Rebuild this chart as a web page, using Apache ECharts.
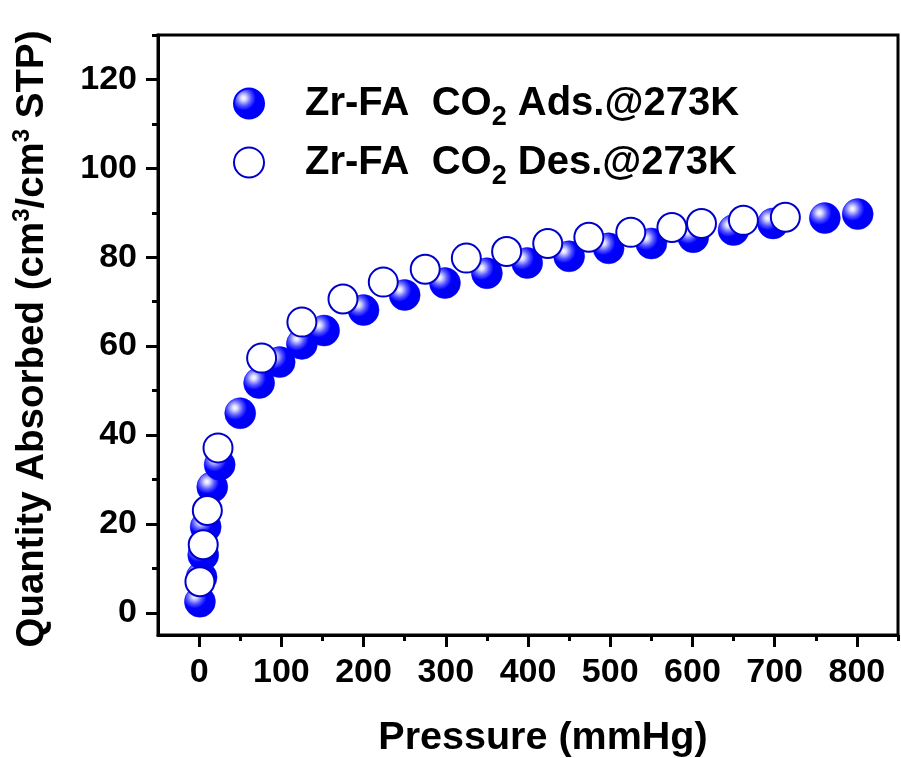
<!DOCTYPE html>
<html><head><meta charset="utf-8">
<script src="https://cdn.jsdelivr.net/npm/echarts@6/dist/echarts.min.js"></script>
<style>html,body{margin:0;padding:0;background:#fff}#c{width:901px;height:758px}</style>
</head><body><div id="c"></div>
<script>
const adsX = [1,3,5,8,16,25,50,73,98,125,152,200,250,299,350,399,450,498,550,601,650,698,761,801];
const adsY = [2.5,8,13,19.3,28.3,33.3,44.9,51.7,56.4,60.5,63.5,68.1,71.5,74.2,76.4,78.7,80.2,82.0,83.1,84.5,86.1,87.6,88.8,89.7];
const desX = [1,5,10,23,76,125,175,224,275,325,374,424,474,525,575,611,662,713];
const desY = [7,15.3,23,37.1,57.3,65.4,70.6,74.4,77.3,79.8,81.3,83.1,84.5,85.6,86.7,87.6,88.3,89.0];
const xMajor = [0,100,200,300,400,500,600,700,800];
const xMinor = [50,150,250,350,450,550,650,750,850];
const yMajor = [0,20,40,60,80,100,120];
const yMinor = [10,30,50,70,90,110,130];
const seriesNames = ['Zr-FA  CO2 Ads.@273K','Zr-FA  CO2 Des.@273K'];

const FONT = 'Arial, "Liberation Sans", sans-serif';
const chart = echarts.init(document.getElementById('c'));
const sphere = new echarts.graphic.RadialGradient(0.33, 0.33, 0.7, [
  {offset:0, color:'#ffffff'},
  {offset:0.12, color:'#d8d8ff'},
  {offset:0.35, color:'#5555ff'},
  {offset:0.55, color:'#0000ff'},
  {offset:1, color:'#0000f0'}
]);
const zip = (a,b)=>a.map((v,i)=>[v,b[i]]);
const baseAxis = {
  axisLine:{show:true,onZero:false,lineStyle:{color:'#000',width:3}},
  splitLine:{show:false}
};
chart.setOption({
  animation:false,
  grid:{left:158,right:3,top:35,bottom:123,show:true,borderColor:'#000',borderWidth:3,outerBoundsMode:'none'},
  legend:{
    orient:'vertical', left:228, top:71, itemWidth:30, itemGap:4, itemHeight:30,
    icon:'circle',
    data:seriesNames,
    formatter:function(n){const p=n.split('CO2');return '{a|'+p[0]+'CO}{s|2}{a|'+p[1]+'}';},
    textStyle:{padding:[0,0,0,36],rich:{
      a:{fontFamily:FONT,fontWeight:'bold',fontSize:40,color:'#000',lineHeight:40},
      s:{fontFamily:FONT,fontWeight:'bold',fontSize:27,color:'#000',lineHeight:27,padding:[28,0,0,0]}
    }}
  },
  xAxis:[{
    ...baseAxis, type:'value', min:-50, max:850,
    axisTick:{show:true,customValues:xMajor,length:12,lineStyle:{color:'#000',width:3}},
    axisLabel:{customValues:xMajor,fontFamily:FONT,fontWeight:'bold',fontSize:34,color:'#000',margin:21},
    name:'Pressure (mmHg)', nameLocation:'middle', nameGap:83,
    nameTextStyle:{fontFamily:FONT,fontWeight:'bold',fontSize:39.5,color:'#000',padding:[0,0,0,30]}
  },{
    type:'value', min:-50, max:850, position:'bottom',
    axisLine:{show:false,onZero:false}, splitLine:{show:false}, axisLabel:{show:false},
    axisTick:{show:true,customValues:xMinor,length:6,lineStyle:{color:'#000',width:3}}
  }],
  yAxis:[{
    ...baseAxis, type:'value', min:-5, max:130,
    axisTick:{show:true,customValues:yMajor,length:12,lineStyle:{color:'#000',width:3}},
    axisLabel:{customValues:yMajor,fontFamily:FONT,fontWeight:'bold',fontSize:34,color:'#000',margin:21},
    name:'Quantity Absorbed (cm{u|3}/cm{u|3} STP)', nameLocation:'middle', nameGap:104,
    nameTextStyle:{fontFamily:FONT,fontWeight:'bold',fontSize:38.5,color:'#000',padding:[0,8,0,0],
      rich:{u:{fontFamily:FONT,fontWeight:'bold',fontSize:24,color:'#000',padding:[0,0,20,0]}}}
  },{
    type:'value', min:-5, max:130, position:'left',
    axisLine:{show:false,onZero:false}, splitLine:{show:false}, axisLabel:{show:false},
    axisTick:{show:true,customValues:yMinor,length:6,lineStyle:{color:'#000',width:3}}
  }],
  series:[{
    name:seriesNames[0], type:'scatter', xAxisIndex:0, yAxisIndex:0,
    symbol:'circle', symbolSize:31, data:zip(adsX,adsY),
    itemStyle:{color:sphere,borderColor:'#0000ff',borderWidth:0.5,opacity:1}
  },{
    name:seriesNames[1], type:'scatter', xAxisIndex:0, yAxisIndex:0,
    symbol:'circle', symbolSize:29, data:zip(desX,desY),
    itemStyle:{color:'#ffffff',borderColor:'#0000cc',borderWidth:2,opacity:1}
  }]
});
</script></body></html>
